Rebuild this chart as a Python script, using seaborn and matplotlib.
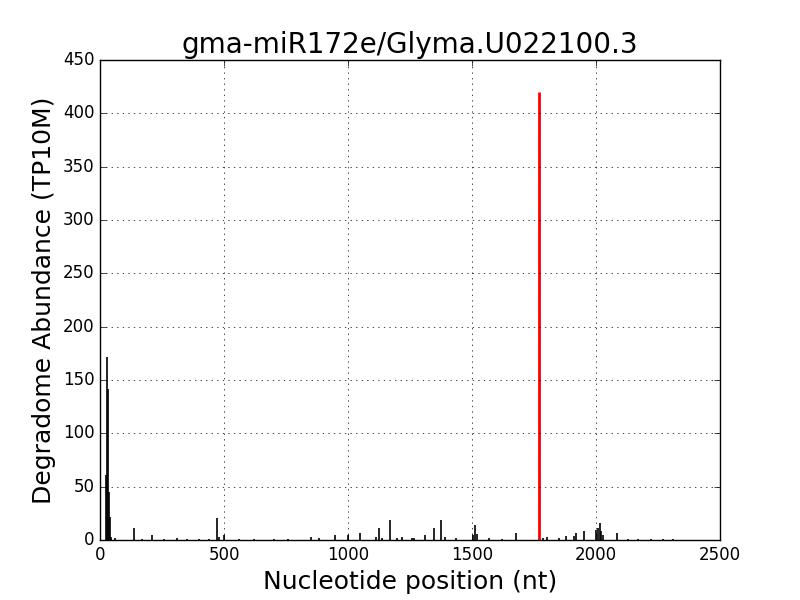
import matplotlib
matplotlib.use("Agg")
import matplotlib.pyplot as plt
import seaborn as sns
import pandas as pd

# Degradome read positions (nt) and abundances (TP10M)
positions = [25, 29, 33, 36, 39, 45, 60, 137, 170, 211, 260, 312, 350, 400, 440, 473, 480, 501,
             560, 620, 700, 760, 851, 884, 949, 1001, 1048, 1113, 1126, 1139, 1170, 1196, 1219,
             1258, 1266, 1312, 1348, 1377, 1391, 1435, 1503, 1513, 1519, 1570, 1620, 1679,
             1785, 1804, 1852, 1880, 1911, 1919, 1953, 2000, 2007, 2016, 2020, 2029, 2083,
             2130, 2171, 2220, 2270, 2310]
abundance = [61, 172, 142, 45, 22, 3, 2, 11, 1, 5, 1, 2, 1, 1, 1, 21, 3, 5,
             1, 1, 1, 1, 3, 2, 5, 5, 7, 3, 11, 2, 19, 2, 3,
             2, 2, 5, 11, 19, 3, 2, 5, 14, 6, 2, 1, 7,
             2, 3, 2, 4, 4, 7, 8, 9, 11, 16, 8, 5, 7,
             1, 1, 1, 1, 1]

# Predicted cleavage site
cleave_pos = [1770]
cleave_val = [420]

df = pd.DataFrame({"pos": positions, "val": abundance})

plt.style.use("classic")
plt.rcParams["font.family"] = ["DejaVu Sans"]

fig, ax = plt.subplots(figsize=(8, 6), dpi=100)
fig.patch.set_facecolor("white")

ax.vlines(df["pos"], 0, df["val"], colors="black", linewidth=1.2)
ax.vlines(cleave_pos, 0, cleave_val, colors="red", linewidth=2)
sns.despine(ax=ax, top=False, right=False)

ax.set_xlim(0, 2500)
ax.set_ylim(0, 450)
ax.grid(True, linestyle=":", color="black")
ax.set_title("gma-miR172e/Glyma.U022100.3", fontsize=20)
ax.set_xlabel("Nucleotide position (nt)", fontsize=18)
ax.set_ylabel("Degradome Abundance (TP10M)", fontsize=18)
ax.tick_params(labelsize=12)

fig.subplots_adjust(left=0.125, right=0.9, bottom=0.1, top=0.9)
fig.savefig("out.png", dpi=100, facecolor="white")
